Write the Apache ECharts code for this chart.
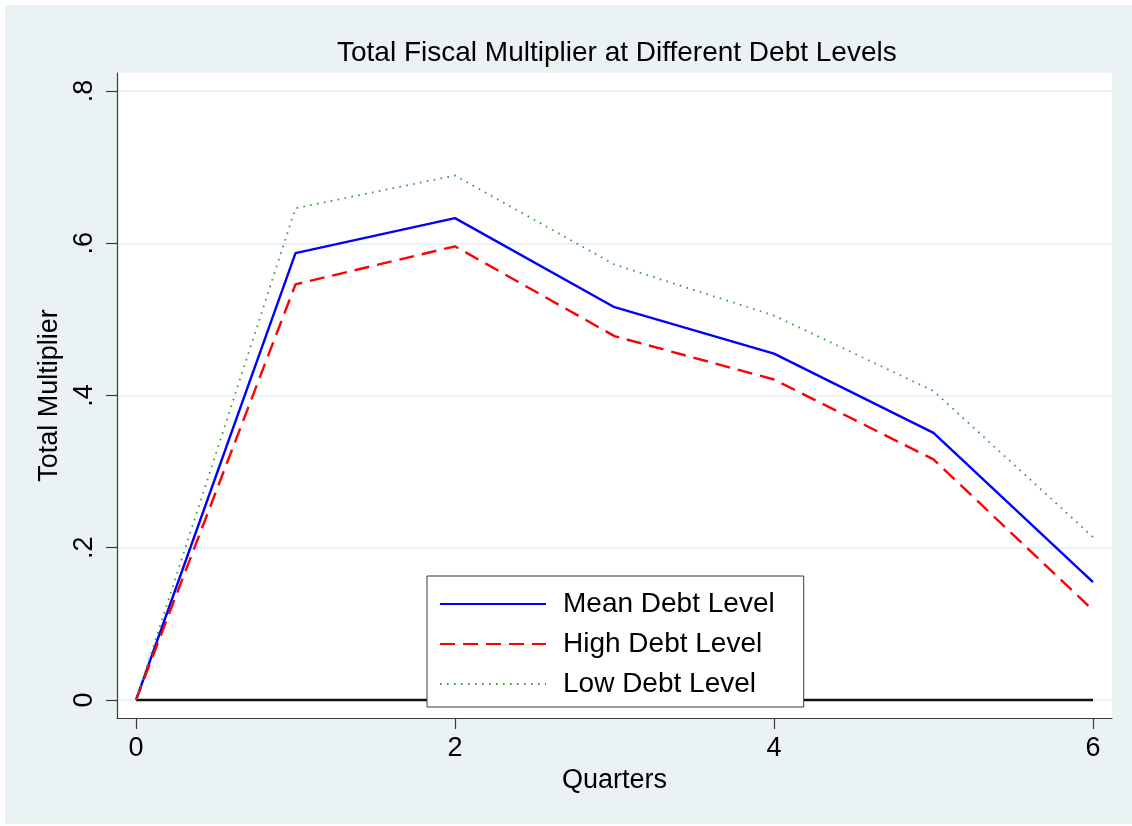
<!DOCTYPE html>
<html>
<head>
<meta charset="utf-8">
<title>Total Fiscal Multiplier at Different Debt Levels</title>
<script src="https://cdn.jsdelivr.net/npm/echarts@6/dist/echarts.min.js"></script>
<style>
  html, body { margin: 0; padding: 0; background: #ffffff; }
  #chart { width: 1132px; height: 826px; }
</style>
</head>
<body>
<div id="chart"></div>
<script>
// Quarters after the fiscal shock
const quarters = [0, 1, 2, 3, 4, 5, 6];

// Cumulative fiscal multiplier by debt regime
const meanDebt = [0, 0.587, 0.633, 0.516, 0.455, 0.351, 0.155];
const highDebt = [0, 0.546, 0.596, 0.478, 0.421, 0.316, 0.118];
const lowDebt  = [0, 0.646, 0.689, 0.572, 0.505, 0.406, 0.214];

// Reference line at zero
const zeroLine = [0, 0, 0, 0, 0, 0, 0];

// Tick values and labels
const xTicks = [0, 2, 4, 6];
const yTicks = [0, 0.2, 0.4, 0.6, 0.8];
const yTickLabels = ['0', '.2', '.4', '.6', '.8'];

const FONT = '"Liberation Sans", Arial, Helvetica, sans-serif';
const BG = '#EAF2F3';
const AXIS = '#3a3a3a';

const pairs = (ys) => quarters.map((q, i) => [q, ys[i]]);

const chart = echarts.init(document.getElementById('chart'), null, { renderer: 'canvas' });

chart.setOption({
  backgroundColor: '#ffffff',
  animation: false,
  textStyle: { fontFamily: FONT },
  graphic: [{
    type: 'rect',
    z: -10,
    silent: true,
    shape: { x: 5, y: 5, width: 1127, height: 819 },
    style: { fill: BG }
  }],
  title: {
    text: 'Total Fiscal Multiplier at Different Debt Levels',
    left: 337,
    top: 39,
    padding: 0,
    textStyle: { fontFamily: FONT, fontSize: 28, fontWeight: 'normal', color: '#000' }
  },
  legend: {
    orient: 'vertical',
    left: 427,
    top: 576,
    padding: [13, 29, 8, 12],
    itemWidth: 106,
    itemHeight: 14,
    itemGap: 10,
    backgroundColor: '#ffffff',
    borderColor: AXIS,
    borderWidth: 1,
    borderRadius: 0,
    itemStyle: { opacity: 0 },
    data: ['Mean Debt Level', 'High Debt Level', 'Low Debt Level'],
    textStyle: { fontFamily: FONT, fontSize: 28, color: '#000', padding: [0, 0, 0, 12], lineHeight: 30 }
  },
  grid: {
    left: 117,
    right: 20,
    top: 73,
    bottom: 108,
    show: true,
    backgroundColor: '#ffffff',
    borderWidth: 0
  },
  xAxis: {
    type: 'value',
    min: -0.1191,
    max: 6.1191,
    name: 'Quarters',
    nameLocation: 'middle',
    nameGap: 45,
    nameTextStyle: { fontFamily: FONT, fontSize: 27, color: '#000' },
    axisLine: { show: true, onZero: false, lineStyle: { color: AXIS, width: 1.2 } },
    axisTick: { show: true, length: 11, customValues: xTicks, lineStyle: { color: AXIS, width: 1.2 } },
    axisLabel: {
      customValues: xTicks,
      margin: 17,
      fontFamily: FONT,
      fontSize: 27,
      color: '#000'
    },
    splitLine: { show: false }
  },
  yAxis: {
    type: 'value',
    min: -0.02365,
    max: 0.82365,
    name: 'Total Multiplier',
    nameLocation: 'middle',
    nameGap: 46,
    nameTextStyle: { fontFamily: FONT, fontSize: 27, color: '#000' },
    axisLine: { show: true, onZero: false, lineStyle: { color: AXIS, width: 1.2 } },
    axisTick: { show: true, length: 11, customValues: yTicks, lineStyle: { color: AXIS, width: 1.2 } },
    axisLabel: {
      customValues: yTicks,
      rotate: 90,
      margin: 19,
      fontFamily: FONT,
      fontSize: 27,
      color: '#000',
      formatter: (v) => {
        const i = yTicks.findIndex((t) => Math.abs(t - v) < 1e-6);
        return i >= 0 ? yTickLabels[i] : '';
      }
    },
    splitLine: { show: true, lineStyle: { color: BG, width: 2 } }
  },
  series: [
    {
      name: 'zero',
      type: 'line',
      data: pairs(zeroLine),
      symbol: 'none',
      silent: true,
      lineStyle: { color: '#111', width: 2.5 },
      z: 2
    },
    {
      name: 'Mean Debt Level',
      type: 'line',
      data: pairs(meanDebt),
      symbol: 'none',
      color: '#0000ff',
      lineStyle: { color: '#0000ff', width: 2.4 },
      z: 3
    },
    {
      name: 'High Debt Level',
      type: 'line',
      data: pairs(highDebt),
      symbol: 'none',
      color: '#ff0000',
      lineStyle: { color: '#ff0000', width: 2.4, type: [15, 8] },
      z: 4
    },
    {
      name: 'Low Debt Level',
      type: 'line',
      data: pairs(lowDebt),
      symbol: 'none',
      color: '#3a9a3a',
      lineStyle: { color: '#3a9a3a', width: 1.8, type: [1.6, 5.4] },
      z: 5
    }
  ]
});
</script>
</body>
</html>
